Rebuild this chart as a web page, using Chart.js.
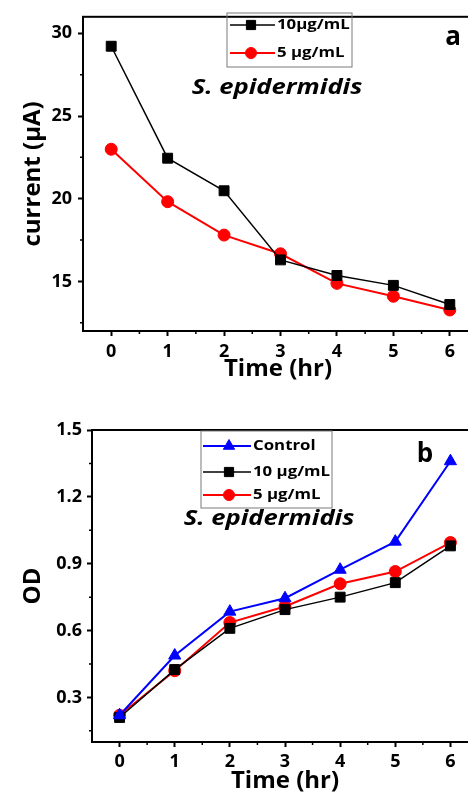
<!DOCTYPE html>
<html>
<head>
<meta charset="utf-8">
<script src="https://cdn.jsdelivr.net/npm/chart.js@4/dist/chart.umd.min.js"></script>
<style>
  html, body { margin: 0; padding: 0; background: #fff; width: 468px; height: 796px; overflow: hidden; }
  .panel { position: absolute; left: 0; width: 490px; }
  #pa { top: 0; height: 390px; }
  #pb { top: 400px; height: 396px; }
</style>
</head>
<body>
<div class="panel" id="pa"><canvas id="chartA"></canvas></div>
<div class="panel" id="pb"><canvas id="chartB"></canvas></div>
<script>
  // data
  const hours = [0, 1, 2, 3, 4, 5, 6];
  const currentHigh = [29.22, 22.45, 20.48, 16.3, 15.36, 14.76, 13.6];
  const currentLow = [22.99, 19.82, 17.8, 16.67, 14.88, 14.1, 13.27];
  const odControl = [0.22, 0.488, 0.685, 0.745, 0.873, 0.999, 1.36];
  const odHigh = [0.21, 0.425, 0.61, 0.694, 0.75, 0.815, 0.98];
  const odLow = [0.22, 0.42, 0.636, 0.708, 0.81, 0.865, 0.995];
  const labelsA = ['10μg/mL', '5 μg/mL'];
  const labelsB = ['Control', '10 μg/mL', '5 μg/mL'];

  // tick positions (major + minor)
  const xTicks = [0, 0.5, 1, 1.5, 2, 2.5, 3, 3.5, 4, 4.5, 5, 5.5, 6];
  const yTicksA = [12.5, 15, 17.5, 20, 22.5, 25, 27.5, 30];
  const yTicksB = [0.15, 0.3, 0.45, 0.6, 0.75, 0.9, 1.05, 1.2, 1.35, 1.5];

  const FONT = '"Open Sans", Lato, sans-serif';
  const pts = vals => hours.map((h, i) => ({ x: h, y: vals[i] }));
  const isMult = (v, step) => Math.abs(v / step - Math.round(v / step)) < 1e-6;

  // draws text stretched horizontally like the original figure
  function putText(ctx, text, x, y, font, align, base, sx) {
    ctx.save();
    ctx.font = font;
    ctx.fillStyle = '#000';
    ctx.textAlign = align;
    ctx.textBaseline = base;
    ctx.translate(x, y);
    ctx.scale(sx, 1);
    ctx.fillText(text, 0, 0);
    ctx.restore();
  }

  const overlay = {
    id: 'overlay',
    afterDraw(chart, args, opts) {
      const { ctx, chartArea: a } = chart;
      const sx = chart.scales.x, sy = chart.scales.y;
      ctx.save();
      ctx.strokeStyle = '#000';
      ctx.lineWidth = 2;
      ctx.strokeRect(a.left, a.top, a.right - a.left, a.bottom - a.top);

      // short minor ticks
      ctx.lineWidth = 1.5;
      ctx.beginPath();
      sx.ticks.forEach(t => {
        if (isMult(t.value, 1)) return;
        const px = sx.getPixelForValue(t.value);
        ctx.moveTo(px, a.bottom);
        ctx.lineTo(px, a.bottom + 3);
      });
      sy.ticks.forEach(t => {
        if (isMult(t.value, opts.yMajor)) return;
        const py = sy.getPixelForValue(t.value);
        ctx.moveTo(a.left, py);
        ctx.lineTo(a.left - 3, py);
      });
      ctx.stroke();

      // legend box inside the plot
      const L = opts.legend;
      ctx.lineWidth = 1;
      ctx.strokeStyle = '#7a7a7a';
      ctx.strokeRect(L.x, L.y, L.w, L.h);
      chart.data.datasets.forEach((ds, i) => {
        const y = L.rows[i];
        ctx.strokeStyle = ds.borderColor;
        ctx.lineWidth = ds.borderWidth;
        ctx.beginPath();
        ctx.moveTo(L.x0, y);
        ctx.lineTo(L.x1, y);
        ctx.stroke();
        ctx.fillStyle = ds.pointBackgroundColor;
        ctx.strokeStyle = ds.borderColor;
        ctx.lineWidth = 1;
        Chart.helpers.drawPoint(ctx, { pointStyle: ds.pointStyle, radius: ds.pointRadius - 0.5, rotation: 0, borderWidth: 1 }, L.mx, y);
        putText(ctx, ds.label, L.tx, y, 'bold 14px ' + FONT, 'left', 'middle', 1.2);
      });

      opts.texts.forEach(t => putText(ctx, t.text, t.x, t.y, t.font, 'center', t.base, t.sx));
      ctx.restore();
    }
  };

  function series(label, vals, color, style, radius, width) {
    return {
      label: label,
      data: pts(vals),
      borderColor: color,
      backgroundColor: color,
      pointBackgroundColor: color,
      pointBorderColor: color,
      pointBorderWidth: 1,
      pointStyle: style,
      pointRadius: radius,
      pointHoverRadius: radius,
      borderWidth: width,
      showLine: true,
      tension: 0
    };
  }

  // major ticks come from Chart.js, minor ones are drawn shorter by the overlay
  function tickGrid(major) {
    return {
      display: true, drawOnChartArea: false, drawTicks: true, tickLength: 5, tickWidth: 2, color: '#000',
      tickColor: c => (c.tick && isMult(c.tick.value, major) ? '#000' : 'rgba(0,0,0,0)')
    };
  }

  function makeChart(id, datasets, cfg) {
    return new Chart(document.getElementById(id), {
      type: 'scatter',
      data: { datasets },
      plugins: [overlay],
      options: {
        responsive: true,
        maintainAspectRatio: false,
        animation: false,
        layout: { padding: { top: cfg.padTop, right: 12, left: 0, bottom: 0 } },
        plugins: {
          legend: { display: false },
          tooltip: { enabled: false },
          overlay: { legend: cfg.legend, texts: cfg.texts, yMajor: cfg.yMajor }
        },
        scales: {
          x: {
            type: 'linear',
            min: -0.5,
            max: 6.5,
            afterBuildTicks: s => { s.ticks = xTicks.map(v => ({ value: v })); },
            afterFit: s => { s.height = cfg.xHeight; },
            border: { display: false },
            grid: tickGrid(1),
            ticks: {
              autoSkip: false,
              maxRotation: 0,
              padding: cfg.xPad,
              color: '#000',
              font: { family: FONT, size: 18, weight: 'bold' },
              callback: v => isMult(v, 1) ? String(Math.round(v)) : ''
            },
            title: { display: false }
          },
          y: {
            type: 'linear',
            min: cfg.yMin,
            max: cfg.yMax,
            afterBuildTicks: s => { s.ticks = cfg.yTicks.map(v => ({ value: v })); },
            afterFit: s => { s.width = cfg.yWidth; },
            border: { display: false },
            grid: tickGrid(cfg.yMajor),
            ticks: {
              autoSkip: false,
              padding: cfg.yPad,
              color: '#000',
              font: { family: FONT, size: 18, weight: 'bold' },
              callback: v => (isMult(v, cfg.yMajor) ? v.toFixed(cfg.yDigits) : '')
            },
            title: {
              display: true,
              text: cfg.yTitle,
              color: '#000',
              font: { family: FONT, size: 24, weight: 'bold' },
              padding: { top: cfg.yTitlePad, bottom: 0 }
            }
          }
        }
      }
    });
  }

  makeChart('chartA', [
    series(labelsA[0], currentHigh, '#000000', 'rect', 7, 1.5),
    series(labelsA[1], currentLow, '#ff0000', 'circle', 6, 2)
  ], {
    padTop: 13, xHeight: 59, xPad: 5,
    yMin: 12, yMax: 31, yTicks: yTicksA, yMajor: 5, yDigits: 0, yWidth: 83, yPad: 6, yTitlePad: 19,
    yTitle: 'current (μA)',
    legend: { x: 227, y: 13, w: 125, h: 54, rows: [25, 53], x0: 230, x1: 275, mx: 251, tx: 277 },
    texts: [
      { text: 'S. epidermidis', x: 277, y: 94, base: 'alphabetic', font: 'italic bold 21px ' + FONT, sx: 1.22 },
      { text: 'a', x: 453, y: 45, base: 'alphabetic', font: 'bold 26px ' + FONT, sx: 1 },
      { text: 'Time (hr)', x: 278, y: 376, base: 'alphabetic', font: 'bold 24px ' + FONT, sx: 1 }
    ]
  });

  makeChart('chartB', [
    series(labelsB[0], odControl, '#0000ff', 'triangle', 7, 2),
    series(labelsB[1], odHigh, '#000000', 'rect', 7, 1.5),
    series(labelsB[2], odLow, '#ff0000', 'circle', 6, 2)
  ], {
    padTop: 30, xHeight: 54, xPad: 4,
    yMin: 0.1, yMax: 1.5, yTicks: yTicksB, yMajor: 0.3, yDigits: 1, yWidth: 92, yPad: 5, yTitlePad: 19,
    yTitle: 'OD',
    legend: { x: 201, y: 31, w: 131, h: 77, rows: [46, 72, 95], x0: 203, x1: 251, mx: 229, tx: 253 },
    texts: [
      { text: 'S. epidermidis', x: 269, y: 125, base: 'alphabetic', font: 'italic bold 21px ' + FONT, sx: 1.22 },
      { text: 'b', x: 425, y: 62, base: 'alphabetic', font: 'bold 26px ' + FONT, sx: 1 },
      { text: 'Time (hr)', x: 285, y: 388, base: 'alphabetic', font: 'bold 24px ' + FONT, sx: 1 }
    ]
  });
</script>
</body>
</html>
